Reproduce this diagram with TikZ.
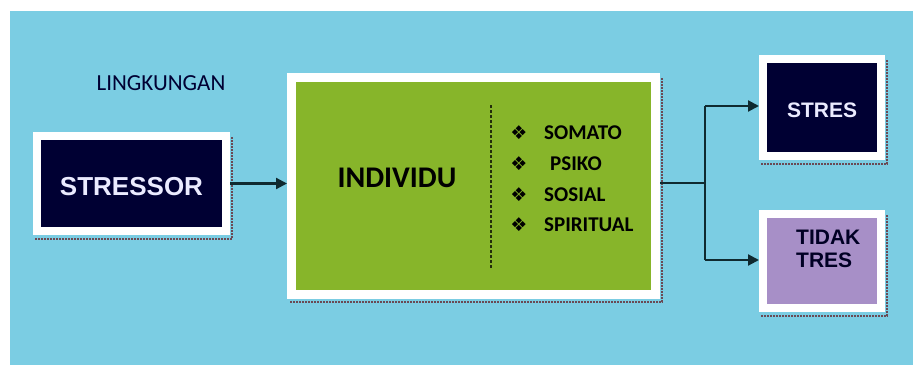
\documentclass[tikz,border=0pt]{standalone}
\usepackage{fontspec}
\usetikzlibrary{arrows.meta}
\newfontfamily\calfont{Carlito}
\newfontfamily\arifont{Liberation Sans}
\newfontfamily\djfont{DejaVu Sans}
\definecolor{panelblue}{HTML}{7BCDE3}
\definecolor{navy}{HTML}{000033}
\definecolor{leaf}{HTML}{87B52A}
\definecolor{lilac}{HTML}{A78FC7}
\definecolor{shadowc}{HTML}{6A4A55}
\definecolor{linec}{HTML}{0F2A30}
\tikzset{
  boxw/.style={draw=white, line width=8pt, inner sep=0pt},
  lbl/.style={inner sep=0pt, font=\calfont\bfseries\fontsize{21}{24}\selectfont},
  bul/.style={inner sep=0pt, font=\djfont\fontsize{19}{22}\selectfont},
  conn/.style={draw=linec, line width=2.2pt},
  arr/.style={conn, -{Triangle[length=11pt,width=11pt]}},
  shad/.style={draw=shadowc, line width=1.2pt, dash pattern=on 2pt off 1pt}
}
\begin{document}
\begin{tikzpicture}[x=1pt,y=-1pt]
\useasboundingbox[fill=white] (0,0) rectangle (918,372);
\fill[panelblue] (10,11) rectangle (913,365);
% shadows
\draw[shad] (35,239) -- (232,239) -- (232,137);
\draw[shad] (290,302) -- (662,302) -- (662,78);
\draw[shad] (761,164) -- (887,164) -- (887,60);
\draw[shad] (761,316) -- (887,316) -- (887,215);
% boxes
\node[boxw, fill=navy, minimum width=189pt, minimum height=95pt]
      (stressor) at (131.5,183.5) {};
\node[inner sep=0pt, text=white!92!blue, font=\arifont\bfseries\fontsize{26}{30}\selectfont]
      (stressortxt) at (131.5,187) {STRESSOR};
\node[boxw, fill=leaf, line width=9pt, minimum width=364pt, minimum height=217pt]
      (indiv) at (473.5,186) {};
\node[boxw, fill=navy, minimum width=118pt, minimum height=97pt]
      (stres) at (822,107.5) {};
\node[inner sep=0pt, text=white!92!blue, font=\arifont\bfseries\fontsize{21}{24}\selectfont]
      (strestxt) at (822,110) {STRES};
\node[boxw, fill=lilac, minimum width=118pt, minimum height=94pt]
      (tidak) at (822,261) {};
\node[inner sep=0pt, anchor=west, align=left, text=navy!70!black,
      font=\arifont\bfseries\fontsize{21}{23}\selectfont] (tidaktxt) at (796,248.5) {TIDAK\\TRES};
% texts
\node[inner sep=0pt, text=navy, font=\calfont\fontsize{23}{26}\selectfont]
      (ling) at (161,83) {LINGKUNGAN};
\node[inner sep=0pt, font=\calfont\bfseries\fontsize{30}{34}\selectfont]
      (indtxt) at (397,178) {INDIVIDU};
\coordinate (dtop) at (491,105);
\coordinate (dbot) at (491,268);
\draw[draw=black!75!leaf, line width=2.4pt, dash pattern=on 3pt off 2pt] (dtop) -- (dbot);
\node[bul] (b1) at (519,133) {❖};
\node[bul] (b2) at (519,164) {❖};
\node[bul] (b3) at (519,195) {❖};
\node[bul] (b4) at (519,225) {❖};
\node[lbl, anchor=west] (t1) at (544,133) {SOMATO};
\node[lbl, anchor=west] (t2) at (550,164) {PSIKO};
\node[lbl, anchor=west] (t3) at (544,195) {SOSIAL};
\node[lbl, anchor=west] (t4) at (544,225) {SPIRITUAL};
% connectors
\draw[arr] (stressor.east) -- (stressor.east -| indiv.west);
\coordinate (junc) at (705,183);
\coordinate (jtop) at (705,106);
\coordinate (jbot) at (705,260);
\draw[conn] (indiv.east |- junc) -- (junc);
\draw[conn] (jtop) -- (jbot);
\draw[arr] (jtop) -- (stres.west |- jtop);
\draw[arr] (jbot) -- (tidak.west |- jbot);
\end{tikzpicture}
\end{document}
